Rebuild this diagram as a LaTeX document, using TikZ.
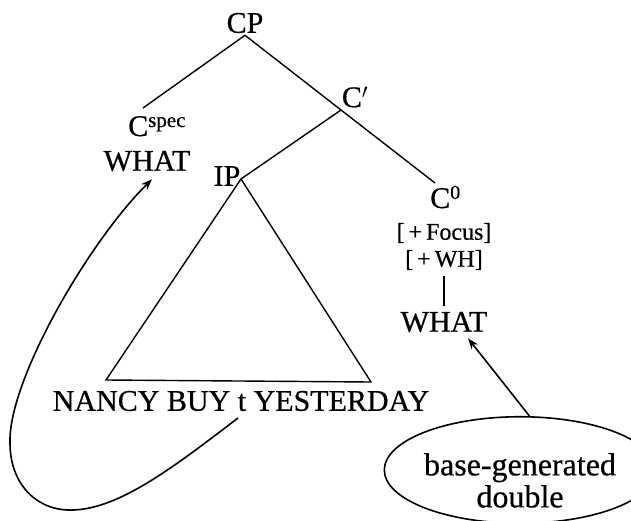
\documentclass[tikz,border=0pt]{standalone}
\usepackage{fontspec}
\setmainfont{Liberation Serif}
\usetikzlibrary{arrows.meta, shapes.geometric}

\begin{document}
\begin{tikzpicture}[
  x=1pt, y=-1pt,
  cat/.style={inner sep=2pt, font=\fontsize{30}{32}\selectfont\addfontfeatures{FakeBold=0.6}},
  feat/.style={inner sep=1pt, font=\fontsize{24}{26}\selectfont\addfontfeatures{FakeBold=0.6}},
  branch/.style={line width=1.4pt},
  arrow/.style={-{Stealth[length=11pt, width=8pt]}, line width=1.6pt}
]
\useasboundingbox (0,0) rectangle (631,521);

% category labels
\node[cat] (cp) at (245,23) {CP};
\node[cat, anchor=base west, inner sep=0pt] (cspec) at (128,136) {C\raisebox{9pt}{\fontsize{21}{21}\selectfont spec}};
\node[cat] (whatL) at (147,161) {WHAT};
\node[cat] (cbar) at (355,97) {C$'$};
\node[cat] (ip) at (227,176) {IP};
\node[cat, anchor=base west, inner sep=0pt] (c0) at (430,208) {C\raisebox{9pt}{\fontsize{20}{20}\selectfont 0}};
\node[feat] (focus) at (444,233) {[\,+\,Focus]};
\node[feat] (wh) at (444,260) {[\,+\,WH]};
\node[cat] (whatR) at (444,322) {WHAT};
\node[cat] (nancy) at (241,401) {NANCY BUY t YESTERDAY};
\node (double) [ellipse, draw, line width=1.6pt, minimum width=216pt, minimum height=106pt,
  inner sep=0pt, align=center, font=\fontsize{32}{32}\selectfont\addfontfeatures{FakeBold=0.6}] at (520,470)
  {\rule{0pt}{43pt}base-generated\\double};

% branch points
\coordinate (specJ) at (143,108);
\coordinate (cbarJ) at (341,110);
\coordinate (c0J) at (435,183);
\coordinate (ipJ) at (241,179);
\coordinate (baseL) at (106,380);
\coordinate (baseR) at (371,382);
\coordinate (trace) at (238,418);

% tree
\draw[branch] (specJ) -- (cp.south) -- (cbarJ) -- (c0J);
\draw[branch] (cbarJ) -- (ipJ);
\draw[branch] (ipJ) -- (baseL) -- (baseR) -- cycle;
\draw[branch] ([yshift=-5pt]wh.south) -- ([yshift=4pt]whatR.north);

% movement and double
\draw[arrow] (trace) .. controls (170,470) and (115,512) .. (67,510)
  .. controls (32,508) and (10,480) .. (10,443)
  .. controls (8,380) and (90,240) .. ([shift={(5,6)}]whatL.south);
\draw[arrow] (double.80) -- ([shift={(24,4)}]whatR.south);

\end{tikzpicture}
\end{document}
